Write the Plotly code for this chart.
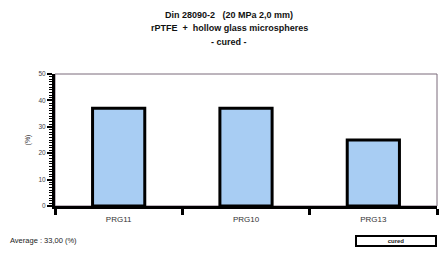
import plotly.graph_objects as go

categories = ["PRG11", "PRG10", "PRG13"]
values = [37, 37, 25]
title_lines = ["Din 28090-2   (20 MPa 2,0 mm)", "rPTFE  +  hollow glass microspheres", "- cured -"]
legend_label = "cured"
y_title = "(%)"

avg = sum(values) / len(values)
avg_text = f"Average : {avg:.2f}".replace(".", ",") + " (%)"

W, H = 446, 257
L, R, T, B = 55, 9, 74, 51
FONT = "Liberation Sans Narrow, Arial Narrow, Liberation Sans, Arial, sans-serif"

fig = go.Figure()
fig.add_trace(go.Bar(
    x=categories, y=values, width=0.41,
    marker=dict(color="#a8cdf3", line=dict(color="black", width=3)),
    showlegend=False, hoverinfo="skip",
))

fig.update_layout(
    width=W, height=H,
    margin=dict(l=L, r=R, t=T, b=B, pad=0),
    paper_bgcolor="white", plot_bgcolor="white",
    font=dict(family=FONT, size=7, color="#222"),
    xaxis=dict(
        showline=True, linecolor="black", linewidth=3,
        ticks="outside", tickson="boundaries", ticklen=6, tickwidth=3, tickcolor="black",
        tickfont=dict(size=8, color="#333"), showgrid=False, ticklabelstandoff=3,
    ),
    yaxis=dict(
        range=[0, 50], dtick=10, showline=True, linecolor="black", linewidth=3,
        ticks="outside", ticklen=5, tickwidth=2, tickcolor="black",
        minor=dict(dtick=1, ticks="outside", ticklen=3, tickwidth=1, tickcolor="black"),
        tickfont=dict(size=6.5, color="#444"), showgrid=False, zeroline=False,
        title=dict(text=y_title, font=dict(size=7, color="#333"), standoff=8),
    ),
)

pw = W - L - R
ph = H - T - B

def ax(p):
    return (p - L) / pw

def ay(p):
    return (H - B - p) / ph

annotations = []
for line, yp in zip(title_lines, [15, 28, 42]):
    annotations.append(dict(
        text=f"<b>{line}</b>", x=ax(229), y=ay(yp), xref="paper", yref="paper",
        xanchor="center", yanchor="middle", showarrow=False,
        font=dict(family=FONT, size=9, color="#111"),
    ))
annotations.append(dict(
    text=avg_text, x=ax(8), y=ay(240), xref="paper", yref="paper",
    xanchor="left", yanchor="middle", showarrow=False,
    font=dict(family=FONT, size=7.5, color="#222"),
))
annotations.append(dict(
    text=f"<b>{legend_label}</b>", x=ax(396), y=ay(241), xref="paper", yref="paper",
    xanchor="center", yanchor="middle", showarrow=False,
    width=76, height=6, bordercolor="black", borderwidth=2, borderpad=1,
    font=dict(family=FONT, size=6, color="#222"),
))
fig.update_layout(
    annotations=annotations,
    shapes=[dict(type="rect", xref="paper", yref="paper", x0=0, x1=1, y0=0, y1=1,
                 line=dict(color="#7a6a7a", width=1), layer="below")],
)

fig.write_html("out.html", config={"displayModeBar": False},
               post_script="document.body.style.margin='0';")
